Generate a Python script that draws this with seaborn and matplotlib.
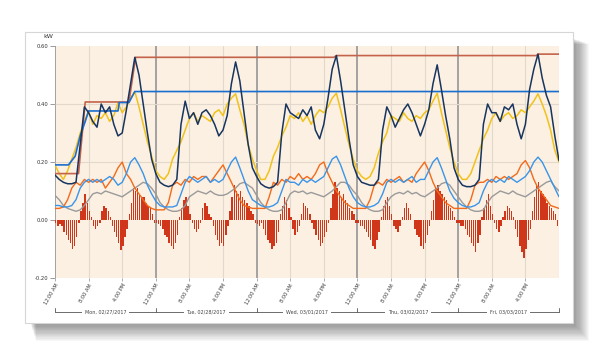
import numpy as np
import matplotlib
matplotlib.use("Agg")
import matplotlib.pyplot as plt
import matplotlib.transforms as mtransforms
from matplotlib.patches import Rectangle
import seaborn as sns

sns.set_theme(style="white")
plt.rcParams['font.family'] = ['DejaVu Sans']

day_labels = ["Mon, 02/27/2017", "Tue, 02/28/2017", "Wed, 03/01/2017",
              "Thu, 03/02/2017", "Fri, 03/03/2017"]
hour_labels = ["12:00 AM", "8:00 AM", "4:00 PM"]
y_labels = ["-0.20", "0.00", "0.20", "0.40", "0.60"]

# hourly readings (kW), Mon 12:00 AM .. Sat 12:00 AM
navy_kw = [
    0.155, 0.14, 0.13, 0.125, 0.125, 0.13, 0.26, 0.39, 0.37, 0.34, 0.32, 0.40,
    0.37, 0.39, 0.33, 0.29, 0.30, 0.38, 0.47, 0.561, 0.50, 0.40, 0.30, 0.21,
    0.16, 0.13, 0.12, 0.115, 0.12, 0.14, 0.33, 0.41, 0.35, 0.37, 0.33, 0.37,
    0.38, 0.36, 0.33, 0.29, 0.31, 0.36, 0.47, 0.545, 0.48, 0.37, 0.26, 0.18,
    0.15, 0.125, 0.115, 0.11, 0.115, 0.13, 0.30, 0.40, 0.37, 0.36, 0.35, 0.38,
    0.36, 0.39, 0.31, 0.28, 0.33, 0.42, 0.52, 0.567, 0.48, 0.38, 0.28, 0.19,
    0.15, 0.13, 0.125, 0.12, 0.12, 0.14, 0.31, 0.39, 0.36, 0.32, 0.35, 0.38,
    0.40, 0.37, 0.33, 0.29, 0.33, 0.38, 0.47, 0.535, 0.45, 0.36, 0.28, 0.18,
    0.14, 0.12, 0.115, 0.115, 0.12, 0.14, 0.33, 0.40, 0.37, 0.37, 0.34, 0.39,
    0.38, 0.40, 0.33, 0.28, 0.33, 0.45, 0.52, 0.572, 0.49, 0.43, 0.39, 0.29,
    0.205]
yellow_kw = [
    0.19, 0.16, 0.14, 0.17, 0.21, 0.25, 0.30, 0.34, 0.376, 0.33, 0.36, 0.35,
    0.37, 0.34, 0.36, 0.405, 0.37, 0.39, 0.42, 0.443, 0.39, 0.33, 0.27, 0.22,
    0.17, 0.15, 0.14, 0.16, 0.21, 0.24, 0.27, 0.31, 0.35, 0.37, 0.34, 0.36,
    0.35, 0.34, 0.37, 0.38, 0.36, 0.40, 0.42, 0.435, 0.38, 0.33, 0.26, 0.21,
    0.17, 0.14, 0.14, 0.17, 0.22, 0.25, 0.29, 0.32, 0.36, 0.35, 0.37, 0.34,
    0.36, 0.33, 0.36, 0.38, 0.37, 0.39, 0.42, 0.437, 0.38, 0.32, 0.26, 0.21,
    0.17, 0.15, 0.14, 0.15, 0.18, 0.23, 0.27, 0.30, 0.36, 0.35, 0.34, 0.37,
    0.35, 0.34, 0.36, 0.35, 0.37, 0.38, 0.41, 0.437, 0.37, 0.31, 0.25, 0.20,
    0.16, 0.14, 0.14, 0.16, 0.20, 0.24, 0.28, 0.31, 0.35, 0.37, 0.34, 0.36,
    0.37, 0.35, 0.36, 0.38, 0.37, 0.39, 0.41, 0.435, 0.40, 0.36, 0.31, 0.24,
    0.20]
lightblue_kw = [
    0.05, 0.05, 0.045, 0.045, 0.05, 0.07, 0.11, 0.13, 0.14, 0.13, 0.14, 0.13,
    0.14, 0.15, 0.14, 0.12, 0.13, 0.16, 0.20, 0.215, 0.19, 0.16, 0.12, 0.09,
    0.065, 0.05, 0.045, 0.045, 0.045, 0.05, 0.09, 0.13, 0.15, 0.14, 0.13, 0.14,
    0.15, 0.13, 0.14, 0.13, 0.14, 0.17, 0.20, 0.217, 0.18, 0.14, 0.10, 0.07,
    0.06, 0.05, 0.045, 0.045, 0.05, 0.06, 0.10, 0.14, 0.13, 0.13, 0.12, 0.14,
    0.13, 0.14, 0.13, 0.14, 0.15, 0.18, 0.21, 0.22, 0.19, 0.15, 0.11, 0.08,
    0.06, 0.05, 0.045, 0.045, 0.05, 0.06, 0.09, 0.13, 0.14, 0.13, 0.14, 0.13,
    0.14, 0.15, 0.13, 0.14, 0.14, 0.17, 0.20, 0.215, 0.18, 0.14, 0.10, 0.075,
    0.06, 0.05, 0.045, 0.045, 0.05, 0.06, 0.10, 0.13, 0.14, 0.13, 0.14, 0.13,
    0.15, 0.14, 0.13, 0.14, 0.15, 0.17, 0.20, 0.217, 0.20, 0.17, 0.14, 0.11,
    0.08]
orange_kw = [
    0.04, 0.04, 0.045, 0.07, 0.11, 0.13, 0.12, 0.14, 0.13, 0.14, 0.13, 0.14,
    0.11, 0.13, 0.15, 0.18, 0.20, 0.16, 0.14, 0.11, 0.09, 0.07, 0.05, 0.04,
    0.035, 0.035, 0.035, 0.06, 0.12, 0.13, 0.12, 0.14, 0.13, 0.15, 0.14, 0.15,
    0.15, 0.13, 0.15, 0.17, 0.19, 0.16, 0.13, 0.10, 0.07, 0.05, 0.045, 0.04,
    0.04, 0.04, 0.04, 0.08, 0.13, 0.12, 0.14, 0.13, 0.15, 0.14, 0.16, 0.14,
    0.15, 0.14, 0.16, 0.19, 0.20, 0.16, 0.13, 0.10, 0.08, 0.06, 0.05, 0.04,
    0.04, 0.04, 0.04, 0.07, 0.12, 0.13, 0.12, 0.14, 0.13, 0.14, 0.15, 0.13,
    0.14, 0.13, 0.16, 0.18, 0.20, 0.17, 0.13, 0.10, 0.08, 0.06, 0.05, 0.04,
    0.04, 0.04, 0.04, 0.07, 0.12, 0.13, 0.13, 0.14, 0.13, 0.15, 0.14, 0.15,
    0.14, 0.15, 0.16, 0.19, 0.205, 0.18, 0.14, 0.11, 0.09, 0.07, 0.05, 0.045,
    0.04]
grey_kw = [
    0.085, 0.07, 0.05, 0.04, 0.035, 0.03, 0.035, 0.05, 0.07, 0.09, 0.095, 0.09,
    0.10, 0.095, 0.09, 0.085, 0.08, 0.09, 0.10, 0.11, 0.12, 0.13, 0.125, 0.11,
    0.09, 0.06, 0.045, 0.035, 0.03, 0.03, 0.035, 0.05, 0.08, 0.09, 0.10, 0.095,
    0.09, 0.10, 0.09, 0.085, 0.085, 0.09, 0.10, 0.11, 0.125, 0.13, 0.12, 0.11,
    0.085, 0.06, 0.045, 0.035, 0.03, 0.03, 0.035, 0.06, 0.09, 0.10, 0.095, 0.10,
    0.09, 0.095, 0.09, 0.085, 0.08, 0.09, 0.10, 0.115, 0.13, 0.13, 0.12, 0.10,
    0.085, 0.06, 0.045, 0.035, 0.03, 0.03, 0.035, 0.06, 0.08, 0.09, 0.095, 0.09,
    0.10, 0.09, 0.095, 0.085, 0.08, 0.09, 0.10, 0.11, 0.125, 0.13, 0.12, 0.10,
    0.08, 0.06, 0.045, 0.035, 0.03, 0.03, 0.035, 0.06, 0.08, 0.09, 0.10, 0.095,
    0.09, 0.10, 0.09, 0.085, 0.08, 0.09, 0.10, 0.11, 0.12, 0.13, 0.135, 0.115,
    0.10]

# half-hourly net bars (kW)
bars_kw = [
    -0.01, -0.02, -0.015, -0.02, -0.04, -0.05, -0.07, -0.08, -0.10, -0.09, -0.06, -0.01,
    0.03, 0.06, 0.09, 0.06, 0.03, 0.01, -0.02, -0.03, -0.02, -0.01, 0.03, 0.05,
    0.04, 0.03, 0.01, -0.02, -0.04, -0.06, -0.08, -0.105, -0.09, -0.06, -0.03, 0.02,
    0.06, 0.11, 0.10, 0.11, 0.09, 0.08, 0.08, 0.06, 0.05, 0.04, 0.02, -0.01,
    -0.01, -0.015, -0.02, -0.03, -0.05, -0.06, -0.08, -0.09, -0.10, -0.08, -0.05, 0.01,
    0.04, 0.07, 0.08, 0.05, 0.02, -0.01, -0.03, -0.04, -0.03, -0.01, 0.04, 0.06,
    0.05, 0.02, 0.01, -0.02, -0.05, -0.07, -0.09, -0.08, -0.09, -0.05, -0.02, 0.03,
    0.08, 0.12, 0.10, 0.09, 0.10, 0.08, 0.07, 0.06, 0.05, 0.03, 0.02, -0.01,
    -0.015, -0.02, -0.01, -0.03, -0.05, -0.07, -0.08, -0.10, -0.09, -0.08, -0.04, 0.02,
    0.05, 0.08, 0.07, 0.04, 0.01, -0.03, -0.05, -0.04, -0.02, 0.02, 0.06, 0.05,
    0.04, 0.02, -0.01, -0.03, -0.05, -0.07, -0.09, -0.08, -0.06, -0.04, -0.01, 0.04,
    0.09, 0.13, 0.11, 0.10, 0.08, 0.09, 0.07, 0.06, 0.04, 0.03, 0.02, -0.01,
    -0.01, -0.02, -0.02, -0.03, -0.04, -0.06, -0.07, -0.09, -0.10, -0.07, -0.04, 0.01,
    0.05, 0.07, 0.08, 0.05, 0.02, -0.02, -0.03, -0.04, -0.02, 0.01, 0.04, 0.06,
    0.04, 0.02, 0.00, -0.03, -0.05, -0.06, -0.09, -0.10, -0.08, -0.05, -0.02, 0.03,
    0.07, 0.11, 0.12, 0.10, 0.09, 0.08, 0.07, 0.05, 0.04, 0.03, 0.01, -0.01,
    -0.01, -0.02, -0.02, -0.03, -0.05, -0.06, -0.08, -0.09, -0.11, -0.08, -0.05, 0.01,
    0.04, 0.07, 0.09, 0.05, 0.02, -0.01, -0.03, -0.04, -0.02, 0.01, 0.03, 0.05,
    0.04, 0.03, 0.01, -0.03, -0.06, -0.09, -0.11, -0.13, -0.10, -0.07, -0.03, 0.03,
    0.08, 0.12, 0.13, 0.10, 0.09, 0.08, 0.06, 0.05, 0.04, 0.03, 0.02, -0.02]

# running peaks (hour, kW) where they change
red_peak_h = [0, 5.6, 7.2, 17.6, 19.2, 66.4, 67.0, 114.6, 115.0, 120]
red_peak_kw = [0.16, 0.16, 0.407, 0.407, 0.561, 0.561, 0.567, 0.567, 0.572, 0.572]
blue_peak_h = [0, 3.2, 4.8, 6.0, 7.2, 8.0, 15.0, 15.3, 17.6, 19.0, 120]
blue_peak_kw = [0.19, 0.19, 0.22, 0.29, 0.34, 0.376, 0.376, 0.405, 0.405, 0.443, 0.443]

hours = np.arange(len(navy_kw))
bar_hours = np.arange(len(bars_kw)) * 0.5

W, H = 600, 350
fig = plt.figure(figsize=(6, 3.5), dpi=100)
fig.patch.set_facecolor('white')


def px_box(x0, y0, x1, y1):
    return (x0 / W, 1 - y1 / H), (x1 - x0) / W, (y1 - y0) / H


# soft drop shadow + white card
for i in range(16):
    xy, w, h = px_box(30 + i * 0.4, 38 + i * 0.4, 573 + i * 1.1, 323 + i * 1.2)
    fig.patches.append(Rectangle(xy, w, h, transform=fig.transFigure, facecolor='black',
                                 alpha=0.03, edgecolor='none', zorder=-3))
xy, w, h = px_box(25, 32, 573, 323)
fig.patches.append(Rectangle(xy, w, h, transform=fig.transFigure, facecolor='white',
                             edgecolor='#d6d6d6', lw=0.8, zorder=-2))

ax = fig.add_axes([55 / W, 1 - 278 / H, 504 / W, 232 / H])
ax.set_facecolor('#fcf0e2')
ax.set_xlim(0, 120)
ax.set_ylim(-0.2, 0.6)
for s in ax.spines.values():
    s.set_visible(False)

for h in range(0, 121, 8):
    if h % 24 == 0 and h < 120:
        ax.axvline(h, color='#9c9c9c', lw=1.3, zorder=0.5)
    else:
        ax.axvline(h, color='#e2d8cb', lw=0.8, zorder=0.5)
for v in [0.2, 0.4]:
    ax.axhline(v, color='#e2d8cb', lw=0.8, zorder=0.5)

ax.bar(bar_hours, bars_kw, width=0.34, align='edge', color='#d0361a', linewidth=0, zorder=1)

sns.lineplot(x=hours, y=grey_kw, ax=ax, color='#9a9a9a', lw=1.0, zorder=2)
sns.lineplot(x=hours, y=orange_kw, ax=ax, color='#f26a1b', lw=1.0, zorder=3)
sns.lineplot(x=hours, y=lightblue_kw, ax=ax, color='#3a95e8', lw=1.0, zorder=4)
sns.lineplot(x=hours, y=yellow_kw, ax=ax, color='#f1c21c', lw=1.1, zorder=5)
sns.lineplot(x=red_peak_h, y=red_peak_kw, ax=ax, color='#c4634b', lw=1.2, zorder=6)
sns.lineplot(x=blue_peak_h, y=blue_peak_kw, ax=ax, color='#1a6ecf', lw=1.2, zorder=6)
sns.lineplot(x=hours, y=navy_kw, ax=ax, color='#17355f', lw=1.1, zorder=7)

ax.set_xlabel('')
ax.set_ylabel('')
ax.set_yticks([-0.2, 0.0, 0.2, 0.4, 0.6])
ax.set_yticklabels(y_labels)
xt = list(range(0, 120, 8))
ax.set_xticks(xt)
ax.set_xticklabels([hour_labels[(t // 8) % 3] for t in xt])
ax.tick_params(axis='y', length=3.5, width=0.6, color='#8a8a8a', labelsize=3.8,
               labelcolor='#333333', pad=1, left=True)
ax.tick_params(axis='x', length=2, width=0.5, color='#8a8a8a', labelsize=3.6,
               labelcolor='#333333', pad=1.5, bottom=True)
plt.setp(ax.get_xticklabels(), rotation=60, ha='right', va='top', rotation_mode='anchor')

fig.text(48 / W, 1 - 37 / H, 'kW', fontsize=4.5, color='#333333', ha='center', va='center')

# day brackets under the time ticks
trans = mtransforms.blended_transform_factory(ax.transData, ax.transAxes)
yb = (278 - 312) / 232
yt = (278 - 308) / 232
ax.plot([0, 120], [yb, yb], transform=trans, clip_on=False, color='#555555', lw=0.6)
for d in range(6):
    ax.plot([d * 24, d * 24], [yb, yt], transform=trans, clip_on=False, color='#555555', lw=0.6)
for d, lab in enumerate(day_labels):
    ax.text(d * 24 + 12, yb, lab, transform=trans, ha='center', va='center', fontsize=3.5,
            color='#444444', bbox=dict(facecolor='white', edgecolor='none', pad=2.0))

fig.savefig('out.png', dpi=100)
